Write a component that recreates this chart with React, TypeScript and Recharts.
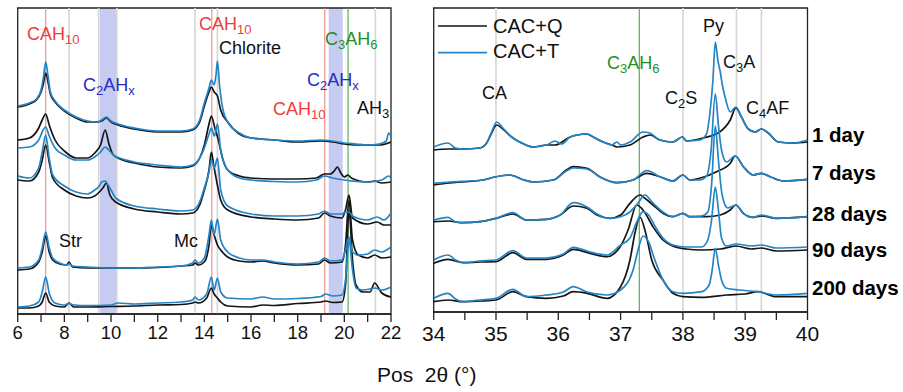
import React from 'react';
import { LineChart, Line, XAxis, YAxis, ReferenceLine, ReferenceArea } from 'recharts';

const FONT = "'Liberation Sans', Arial, Helvetica, sans-serif";
const Q_COLOR = '#151515';
const T_COLOR = '#2384c6';
const RED = '#f03c3c';
const BLUE = '#2a2ac4';
const GREEN = '#1f8f1f';

// ---- tick values ----
const LEFT_TICKS = [6, 7, 8, 9, 10, 11, 12, 13, 14, 15, 16, 17, 18, 19, 20, 21, 22];
const RIGHT_TICKS = [34, 34.5, 35, 35.5, 36, 36.5, 37, 37.5, 38, 38.5, 39, 39.5, 40];
const AGES = ['1 day', '7 days', '28 days', '90 days', '200 days'];

// ---- reference positions (2θ) ----
const LEFT_GRAY = [8.2, 9.47, 10.25, 13.6, 14.56, 21.33];
const LEFT_RED = [7.2, 14.32, 19.16];
const LEFT_GREEN = [20.16];
const LEFT_BANDS = [[9.52, 10.22], [19.33, 19.93]];
const RIGHT_GRAY = [35.0, 38.0, 38.86, 39.26];
const RIGHT_GREEN = [37.3];

// ---- left panel patterns (2θ, stacked intensity) ----
const L1Q = [[6,207],[6.5,210],[6.8,214],[7.0,222],[7.1,230],[7.2,241],[7.3,232],[7.4,220],[7.6,212],[8.0,203],[8.5,196],[9.0,192],[9.4,192],[9.6,193],[9.8,196],[10.0,192],[10.3,189],[11,185],[12,182],[13,182],[13.5,184],[13.8,192],[14.0,208],[14.2,222],[14.3,227],[14.42,222],[14.56,218],[14.7,204],[15.0,192],[15.5,180],[16,176],[17,174],[18,172],[19,173],[19.5,172],[20,170],[20.5,169],[21,169],[21.5,169],[22,172]];
const L1T = [[6,208],[6.5,211],[6.8,215],[7.0,224],[7.1,236],[7.2,252],[7.3,238],[7.4,222],[7.6,213],[8.0,204],[8.5,197],[9.0,193],[9.4,192],[9.6,194],[9.8,197],[10.0,193],[10.3,190],[11,186],[12,183],[13,183],[13.5,185],[13.8,194],[14.0,211],[14.2,226],[14.3,234],[14.42,229],[14.5,239],[14.56,253],[14.65,229],[14.8,204],[15.0,192],[15.5,181],[16,176],[17,174],[18,173],[19,174],[19.5,173],[20,171],[20.5,170],[21,169],[21.5,170],[21.8,173],[21.9,181],[22,178]];
const L7Q = [[6,174],[6.5,176],[6.9,186],[7.05,194],[7.2,200],[7.35,189],[7.6,174],[8.0,163],[8.5,156],[9.0,156],[9.3,161],[9.55,169],[9.75,184],[9.9,171],[10.1,159],[10.5,154],[11,151],[12,147],[13,146],[13.5,148],[13.8,156],[14.0,169],[14.2,190],[14.3,198],[14.45,186],[14.6,174],[14.8,154],[15.0,144],[15.5,138],[16,136],[17,135],[18,135],[18.8,136],[19.15,140],[19.4,140],[19.6,144],[19.7,147],[19.85,141],[20.0,137],[20.15,139],[20.3,136],[21,132],[21.3,133],[21.6,131],[22,132]];
const L7T = [[6,166],[6.5,167],[6.9,174],[7.05,182],[7.2,187],[7.35,178],[7.6,166],[8.0,159],[8.5,154],[9.0,154],[9.3,157],[9.55,162],[9.75,167],[9.9,164],[10.1,159],[10.5,155],[11,152],[12,149],[13,147],[13.5,149],[13.8,156],[14.0,166],[14.2,180],[14.3,186],[14.43,178],[14.56,190],[14.7,164],[15.0,144],[15.5,136],[16,134],[17,132.5],[18,132],[18.8,134],[19.15,138],[19.5,136],[20,134],[21,132],[21.6,134],[21.9,138],[22,136]];
const L28Q = [[6,134],[6.5,133],[6.9,142],[7.05,154],[7.2,169],[7.35,152],[7.5,136],[8.0,124],[8.5,118],[9.0,116],[9.3,118],[9.5,122],[9.65,126],[9.8,131],[9.95,119],[10.2,112],[11,105],[12,102],[13,100],[13.5,101],[13.8,109],[14.0,124],[14.2,144],[14.3,162],[14.4,149],[14.56,129],[14.7,114],[15.0,104],[16,97],[17,95],[18,94],[18.9,96],[19.15,101],[19.4,98],[19.9,96],[20.05,104],[20.2,119],[20.35,96],[21,90],[21.4,92],[21.7,89],[22,89]];
const L28T = [[6,138],[6.5,136],[6.9,146],[7.05,162],[7.2,179],[7.35,156],[7.5,139],[8.0,128],[8.5,122],[9.0,120],[9.3,124],[9.5,128],[9.6,132],[9.75,133],[9.85,130],[10.0,124],[10.2,116],[11,108],[12,105],[13,103],[13.5,104],[13.8,112],[14.0,126],[14.2,142],[14.3,154],[14.43,146],[14.56,156],[14.7,124],[15.0,108],[16,100],[17,98],[18,98],[18.9,100],[19.15,103],[19.4,100],[19.9,100],[20.05,102],[20.2,102],[20.35,98],[21,94],[21.4,97],[21.7,94],[22,101]];
const L90Q = [[6,44],[6.5,45],[6.9,52],[7.05,62],[7.2,78],[7.35,62],[7.5,54],[7.8,50],[8.1,49],[8.2,52],[8.35,47],[9.0,46],[10,46],[11,46],[12,46.5],[13,48],[13.5,49],[13.6,51],[13.75,49],[14.0,52],[14.2,69],[14.3,89],[14.42,79],[14.56,69],[14.7,64],[15.0,57],[15.5,53],[16,52],[16.5,53],[17,51],[18,49],[18.9,50],[19.15,54],[19.4,51],[19.9,52],[20.05,69],[20.2,114],[20.35,74],[20.6,59],[21.0,56],[21.3,59],[21.6,56],[22,57]];
const L90T = [[6,46],[6.5,47],[6.9,54],[7.05,66],[7.2,82],[7.35,66],[7.5,56],[7.8,51],[8.1,49],[8.2,50],[8.35,48],[9.0,47],[10,46],[11,46],[12,47],[13,48],[13.5,51],[13.6,54],[13.75,51],[14.0,56],[14.2,79],[14.3,94],[14.42,79],[14.56,95],[14.7,74],[15.0,62],[15.5,56],[16,54],[16.5,54],[17,52],[18,50],[18.9,52],[19.15,56],[19.4,53],[19.9,54],[20.05,64],[20.2,77],[20.35,62],[20.6,59],[21.0,60],[21.3,64],[21.6,62],[22,67]];
const L200Q = [[6,6],[6.5,6],[6.9,8],[7.05,12],[7.2,21],[7.35,12],[7.6,8],[8.0,7],[8.2,11],[8.4,7],[9,7],[10,7.5],[11,8],[12,9],[13,9.5],[13.5,11],[13.6,12],[13.75,11],[14.1,16],[14.3,26],[14.42,20],[14.56,16],[14.7,12],[15.0,8],[16,7],[16.5,9],[17,8.5],[18,10.5],[19,12],[19.2,13],[19.5,11.5],[19.9,12],[20.05,29],[20.2,104],[20.35,54],[20.5,29],[20.8,22],[21.1,22],[21.3,31],[21.6,21],[22,17]];
const L200T = [[6,7],[6.5,8],[6.9,12],[7.05,22],[7.2,37],[7.35,21],[7.6,11],[8.0,9],[8.2,10.5],[8.4,9],[9,8.5],[10,9],[10.3,11],[11,10],[12,11],[13,12],[13.5,14],[13.6,17],[13.75,14],[14.1,20],[14.3,37],[14.42,24],[14.56,36],[14.7,22],[15.0,16],[16,15],[16.5,17],[17,15],[18,15.5],[19,17.5],[19.2,20],[19.5,18],[19.9,19],[20.05,34],[20.2,74],[20.35,44],[20.5,26],[20.8,24],[21.1,25],[21.3,26],[21.6,24],[22,27]];

// ---- right panel patterns ----
const R1Q = [[34,162],[34.23,163],[34.47,163],[34.74,164],[34.85,169],[34.93,179],[35.01,187],[35.11,183],[35.25,175],[35.43,168.5],[35.6,165],[35.81,167],[35.95,167],[36.19,175],[36.3,177],[36.46,178],[36.56,175],[36.72,170],[36.86,167],[36.94,165],[37.15,167],[37.36,175],[37.47,177],[37.63,172],[37.84,170],[37.99,175],[38.06,171],[38.32,174],[38.59,180],[38.76,192],[38.85,204],[38.94,195],[39.05,183],[39.16,180],[39.26,183],[39.37,179],[39.53,170],[39.77,169],[40,170]];
const R1T = [[34,165],[34.23,169],[34.35,164],[34.47,163],[34.74,164],[34.85,169],[34.93,180],[35.01,190],[35.11,184],[35.25,175],[35.43,168.5],[35.6,165],[35.81,167],[35.95,171],[36.05,168],[36.19,175],[36.3,177],[36.46,178],[36.56,175],[36.72,170],[36.86,167],[36.94,170],[37.0,167],[37.15,170],[37.36,180],[37.47,179],[37.63,172],[37.84,170],[37.99,175],[38.06,171],[38.27,172],[38.38,178],[38.43,197],[38.48,230],[38.52,270],[38.56,252],[38.6,240],[38.63,228],[38.68,214],[38.76,200],[38.85,205],[38.94,195],[39.05,183],[39.16,180],[39.26,183],[39.37,179],[39.53,170],[39.77,169],[40,172]];
const R7Q = [[34,127],[34.26,129],[34.79,132],[34.98,135],[35.22,137],[35.45,132],[35.6,130],[35.92,132],[36.13,142],[36.24,145.3],[36.46,143.7],[36.67,135],[36.94,129.3],[37.2,132],[37.42,138.7],[37.63,135.3],[37.84,131],[38.0,137],[38.11,132],[38.27,133.7],[38.54,140.3],[38.76,148.7],[38.84,156],[38.97,145.3],[39.13,137],[39.26,138.7],[39.4,135.3],[39.61,131],[40,132.7]];
const R7T = [[34,128.7],[34.26,130],[34.79,132],[34.98,135],[35.22,137],[35.45,132],[35.6,130],[35.92,132],[36.13,141],[36.24,144],[36.46,143],[36.67,135],[36.94,129.3],[37.2,132],[37.42,141.3],[37.63,135.3],[37.84,131],[38.0,137],[38.11,132],[38.27,132],[38.38,136],[38.45,160],[38.52,218],[38.57,187],[38.62,162],[38.7,150],[38.84,156],[38.97,145.3],[39.13,137],[39.26,138.7],[39.4,135.3],[39.61,131],[40,132.7]];
const R28Q = [[34,90.3],[34.23,91],[34.47,89.3],[34.74,90.3],[35.0,93.7],[35.27,98],[35.49,92],[35.81,92.7],[36.03,97],[36.24,106],[36.46,103.7],[36.62,97],[36.83,93.7],[37.0,97],[37.15,108.7],[37.31,117],[37.39,113.7],[37.52,107],[37.68,98.7],[37.84,95.3],[38.0,98.7],[38.11,95.3],[38.38,95.3],[38.6,97],[38.76,102],[38.85,107],[38.97,98.7],[39.13,94.7],[39.26,96],[39.5,93.7],[40,95.3]];
const R28T = [[34,92],[34.23,94.7],[34.35,90],[34.47,89.3],[34.74,90.3],[35.0,93.7],[35.27,99.3],[35.49,92],[35.81,92.7],[36.03,97],[36.24,109.3],[36.46,105],[36.62,98],[36.83,93.7],[37.0,95.3],[37.15,100],[37.28,109],[37.39,117],[37.52,109],[37.68,100],[37.84,95.3],[38.0,98.7],[38.11,95.3],[38.3,96],[38.4,100],[38.46,127],[38.52,186],[38.57,152],[38.63,117],[38.72,104],[38.85,107],[38.97,98.7],[39.13,94.7],[39.26,97],[39.5,93.7],[40,95.3]];
const R90Q = [[34,48.7],[34.23,52.7],[34.47,49.3],[34.74,50],[35.0,50.3],[35.27,59.3],[35.49,52.7],[35.81,52.7],[36.08,57],[36.24,62.7],[36.51,58.7],[36.78,55.3],[37.0,66],[37.12,82],[37.26,107],[37.36,102],[37.52,85.3],[37.68,72],[37.84,66],[38.05,63],[38.3,62],[38.6,63],[38.85,66],[39.1,63],[39.26,64],[39.5,61],[40,62]];
const R90T = [[34,52],[34.23,57],[34.35,52],[34.47,49.3],[34.74,51],[35.0,52],[35.27,61.3],[35.49,54],[35.81,54],[36.08,58],[36.24,64.7],[36.51,60],[36.78,57],[37.0,67],[37.15,74],[37.26,90],[37.36,100.3],[37.45,97],[37.55,86],[37.68,74],[37.84,67],[38.05,65],[38.3,65],[38.4,72],[38.46,92],[38.52,125],[38.57,102],[38.62,74],[38.7,66],[38.85,68],[39.1,66],[39.26,67],[39.5,64],[40,65]];
const R200Q = [[34,10.3],[34.23,12],[34.47,10.3],[34.74,11],[35.0,12],[35.27,20.3],[35.49,15.3],[35.81,13.7],[36.08,16],[36.24,20.3],[36.46,18.7],[36.78,13.7],[37.0,25.3],[37.15,52],[37.23,78.7],[37.31,95],[37.39,82],[37.5,52],[37.68,32],[37.84,18.7],[38.0,15.3],[38.3,14.7],[38.7,17],[39.0,18],[39.2,20.3],[39.5,15.3],[40,15.3]];
const R200T = [[34,13.7],[34.23,18.7],[34.35,13],[34.47,10.3],[34.74,12],[35.0,13.7],[35.27,22.7],[35.49,15.3],[35.81,17],[36.08,20],[36.24,25.3],[36.46,20],[36.78,17],[37.0,22],[37.2,42],[37.28,62],[37.36,76],[37.45,70],[37.55,52],[37.68,32],[37.84,20.3],[38.0,18.7],[38.3,20.3],[38.42,27],[38.47,42],[38.52,63.7],[38.57,47],[38.62,32],[38.7,23.7],[38.9,22],[39.2,20.3],[39.5,17],[40,18.7]];

const LEFT_Q = [L1Q, L7Q, L28Q, L90Q, L200Q];
const LEFT_T = [L1T, L7T, L28T, L90T, L200T];
const RIGHT_Q = [R1Q, R7Q, R28Q, R90Q, R200Q];
const RIGHT_T = [R1T, R7T, R28T, R90T, R200T];

const toRows = (pts: number[][]) => pts.map(([x, y]) => ({ x, y }));

const axisStyle = { stroke: '#222', strokeWidth: 1.3 };

function renderLines(q: number[][][], t: number[][][], prefix: string) {
  return [
    ...q.map((s, i) => (
      <Line key={`${prefix}q${i}`} data={toRows(s)} dataKey="y" type="monotone" stroke={Q_COLOR}
        strokeWidth={1.7} dot={false} activeDot={false} isAnimationActive={false} />
    )),
    ...t.map((s, i) => (
      <Line key={`${prefix}t${i}`} data={toRows(s)} dataKey="y" type="monotone" stroke={T_COLOR}
        strokeWidth={1.7} dot={false} activeDot={false} isAnimationActive={false} />
    )),
  ];
}

export default function App() {
  return (
    <div style={{ position: 'absolute', left: 0, top: 0, width: 903, height: 392, background: '#fff', overflow: 'hidden' }}>
      <div style={{ position: 'absolute', left: 0, top: 0 }}>
        <LineChart width={420} height={392} margin={{ top: 8, right: 29, bottom: 48, left: 17.7 }}>
          <XAxis type="number" dataKey="x" domain={[6, 22]} ticks={LEFT_TICKS} interval={0} allowDataOverflow
            height={30} tickSize={8} tickMargin={4} axisLine={axisStyle} tickLine={axisStyle}
            tickFormatter={(v: number) => (v % 2 === 0 ? String(v) : '')}
            tick={{ fontSize: 18.5, fill: '#111', fontFamily: FONT }} />
          <YAxis type="number" domain={[0, 306]} hide allowDataOverflow />
          {LEFT_BANDS.map(([a, b], i) => (
            <ReferenceArea key={`lb${i}`} x1={a} x2={b} fill="#c6cbf1" fillOpacity={1} stroke="none" ifOverflow="visible" />
          ))}
          {LEFT_GRAY.map((v) => <ReferenceLine key={`lg${v}`} x={v} stroke="#d6d6d6" strokeWidth={1.6} />)}
          {LEFT_RED.map((v) => <ReferenceLine key={`lr${v}`} x={v} stroke="#ef8a8a" strokeWidth={1.1} />)}
          {LEFT_GREEN.map((v) => <ReferenceLine key={`lgr${v}`} x={v} stroke="#47a947" strokeWidth={1.1} />)}
          {renderLines(LEFT_Q, LEFT_T, 'L')}
          <ReferenceArea x1={6} x2={22} y1={0} y2={306} fill="none" stroke="#222" strokeWidth={1.3} ifOverflow="visible" />
        </LineChart>
      </div>
      <div style={{ position: 'absolute', left: 420, top: 0 }}>
        <LineChart width={483} height={392} margin={{ top: 8, right: 95.5, bottom: 50, left: 13.7 }}>
          <XAxis type="number" dataKey="x" domain={[34, 40]} ticks={RIGHT_TICKS} interval={0} allowDataOverflow
            height={30} tickSize={8} tickMargin={6} axisLine={axisStyle} tickLine={axisStyle}
            tickFormatter={(v: number) => (Number.isInteger(v) ? String(v) : '')}
            tick={{ fontSize: 21, fill: '#111', fontFamily: FONT }} />
          <YAxis type="number" domain={[0, 304]} hide allowDataOverflow />
          {RIGHT_GRAY.map((v) => <ReferenceLine key={`rg${v}`} x={v} stroke="#d6d6d6" strokeWidth={1.6} />)}
          {RIGHT_GREEN.map((v) => <ReferenceLine key={`rgr${v}`} x={v} stroke="#47a947" strokeWidth={1.1} />)}
          {renderLines(RIGHT_Q, RIGHT_T, 'R')}
          <ReferenceArea x1={34} x2={40} y1={0} y2={304} fill="none" stroke="#222" strokeWidth={1.3} ifOverflow="visible" />
        </LineChart>
      </div>
      <svg width={903} height={392} style={{ position: 'absolute', left: 0, top: 0, pointerEvents: 'none' }}
        fontFamily={FONT}>
        {/* left panel phase labels */}
        <text x={27} y={40} fill={RED} fontSize={18}>CAH<tspan dy={4} fontSize={13}>10</tspan></text>
        <text x={83} y={91} fill={BLUE} fontSize={18}>C<tspan dy={4} fontSize={13}>2</tspan><tspan dy={-4}>AH</tspan><tspan dy={4} fontSize={13}>x</tspan></text>
        <text x={199} y={29.5} fill={RED} fontSize={18}>CAH<tspan dy={4} fontSize={13}>10</tspan></text>
        <text x={219} y={54} fill="#111" fontSize={18}>Chlorite</text>
        <text x={325} y={45} fill={GREEN} fontSize={18}>C<tspan dy={4} fontSize={13}>3</tspan><tspan dy={-4}>AH</tspan><tspan dy={4} fontSize={13}>6</tspan></text>
        <text x={307} y={86} fill={BLUE} fontSize={18}>C<tspan dy={4} fontSize={13}>2</tspan><tspan dy={-4}>AH</tspan><tspan dy={4} fontSize={13}>x</tspan></text>
        <text x={273} y={115} fill={RED} fontSize={18}>CAH<tspan dy={4} fontSize={13}>10</tspan></text>
        <text x={357} y={114} fill="#111" fontSize={18}>AH<tspan dy={4} fontSize={13}>3</tspan></text>
        <text x={59} y={247} fill="#111" fontSize={18}>Str</text>
        <text x={174} y={247} fill="#111" fontSize={18}>Mc</text>
        {/* right panel phase labels */}
        <text x={482} y={99} fill="#111" fontSize={18}>CA</text>
        <text x={607} y={69} fill={GREEN} fontSize={18}>C<tspan dy={4} fontSize={13}>3</tspan><tspan dy={-4}>AH</tspan><tspan dy={4} fontSize={13}>6</tspan></text>
        <text x={665} y={104} fill="#111" fontSize={18}>C<tspan dy={4} fontSize={13}>2</tspan><tspan dy={-4}>S</tspan></text>
        <text x={703} y={32} fill="#111" fontSize={18}>Py</text>
        <text x={723} y={68} fill="#111" fontSize={18}>C<tspan dy={4} fontSize={13}>3</tspan><tspan dy={-4}>A</tspan></text>
        <text x={746} y={114} fill="#111" fontSize={18}>C<tspan dy={4} fontSize={13}>4</tspan><tspan dy={-4}>AF</tspan></text>
        {/* legend */}
        <line x1={438} y1={26} x2={487} y2={26} stroke={Q_COLOR} strokeWidth={1.7} />
        <text x={493} y={33.3} fill="#111" fontSize={20}>CAC+Q</text>
        <line x1={438} y1={52.7} x2={487} y2={52.7} stroke={T_COLOR} strokeWidth={1.7} />
        <text x={493} y={58.3} fill="#111" fontSize={20}>CAC+T</text>
        {/* age labels */}
        {AGES.map((a, i) => (
          <text key={a} x={812} y={[141.7, 180, 220.7, 257, 295][i]} fill="#000" fontSize={20.5} fontWeight="bold">{a}</text>
        ))}
        {/* axis title */}
        <text x={377} y={382} fill="#111" fontSize={21} style={{ whiteSpace: 'pre' }}>{'Pos\u00a0\u00a02θ (°)'}</text>
      </svg>
    </div>
  );
}
